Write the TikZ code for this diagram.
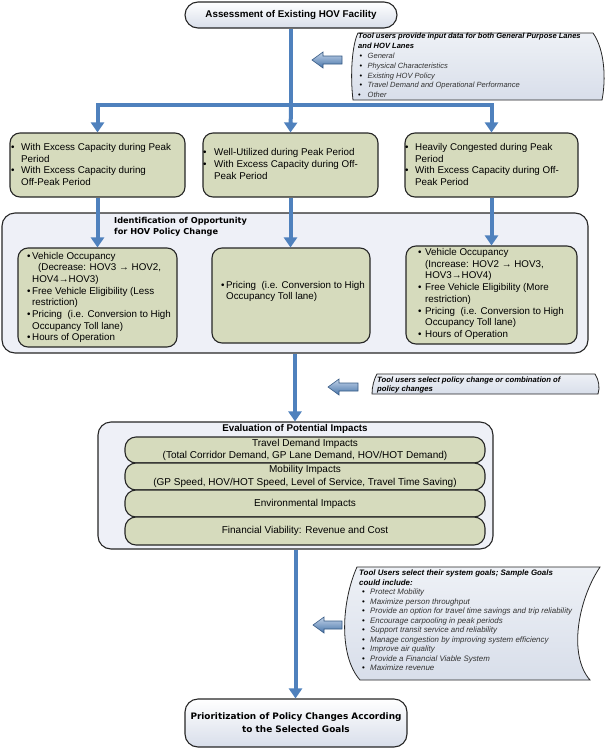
\documentclass[tikz,border=0pt]{standalone}
\usepackage{fontspec}
\setmainfont{Liberation Sans}
\newfontfamily\verd{DejaVu Sans}
\usetikzlibrary{arrows.meta}
\definecolor{gfill}{HTML}{D6DBBD}
\definecolor{bfill}{HTML}{EEF0F7}
\definecolor{cblue}{HTML}{4F81BD}
\definecolor{edgec}{HTML}{262626}
\definecolor{itemc}{HTML}{333333}
\definecolor{notetop}{HTML}{EEF1F6}
\definecolor{notebot}{HTML}{D8DEEA}
\newcommand{\bul}[1]{\makebox[#1][l]{\textbullet}}
\newcommand{\nbul}[1]{\makebox[#1][l]{\upshape\color{black}\textbullet}}
\newcommand{\ind}[1]{\hspace*{#1}}
\newcommand{\leftarr}[3]{%
  \path[barrow] (#1,#3) -- (#1+11,#3-8) -- (#1+11,#3-4) -- (#2,#3-4) -- (#2,#3+4) -- (#1+11,#3+4) -- (#1+11,#3+8) -- cycle;}
\begin{document}
\begin{tikzpicture}[x=1pt,y=-1pt,
  gbox/.style={draw=edgec, line width=1.1pt, fill=gfill, rounded corners=10pt, inner sep=0pt},
  gtext/.style={inner sep=0pt, align=left, anchor=west, font=\fontsize{9.8}{11.7}\selectfont},
  outerbox/.style={draw=edgec, line width=1.1pt, fill=bfill, rounded corners=13pt, inner sep=0pt},
  termbox/.style={draw=edgec, line width=1.1pt, rounded corners=13pt, inner sep=0pt, top color=white, bottom color=notebot},
  bar/.style={draw=edgec, line width=1.1pt, fill=gfill, rounded corners=11pt, inner sep=0pt, minimum width=360, align=center, font=\fontsize{10}{12.5}\selectfont},
  conn/.style={draw=cblue, line width=4pt},
  tipc/.style={-{Triangle[width=13pt,length=10pt]}},
  notestyle/.style={draw=edgec, line width=0.8pt, top color=notetop, bottom color=notebot},
  notetext/.style={inner sep=0pt, align=left, anchor=west},
  barrow/.style={draw=cblue!70!black, line width=0.6pt, top color=cblue!35, bottom color=cblue!90!black}
]
\useasboundingbox (0,0) rectangle (605,750);

% top box
\node[termbox, minimum width=212, minimum height=26, font=\fontsize{9.8}{11}\selectfont\bfseries] (top) at (291,15) {Assessment of Existing HOV Facility};

% note 1
\path[notestyle] (358,33) -- (593,33) .. controls (605,50) and (606,80) .. (602,100) -- (353,100) .. controls (350,75) and (352,45) .. (358,33) -- cycle;
\node[notetext, font=\fontsize{7.55}{9.8}\selectfont] (n1) at (358,65.5) {\textbf{\textit{Tool users provide input data for both General Purpose Lanes}}\\
\textbf{\textit{and HOV Lanes}}\\
{\color{itemc}\itshape\ind{1.5pt}\nbul{8pt}General}\\
{\color{itemc}\itshape\ind{1.5pt}\nbul{8pt}Physical Characteristics}\\
{\color{itemc}\itshape\ind{1.5pt}\nbul{8pt}Existing HOV Policy}\\
{\color{itemc}\itshape\ind{1.5pt}\nbul{8pt}Travel Demand and Operational Performance}\\
{\color{itemc}\itshape\ind{0pt}\nbul{9.5pt}Other}};
\leftarr{312}{342}{60}

% green boxes row 1
\node[gbox, minimum width=175, minimum height=64] (g1) at (97.5,165) {};
\node[gtext] (g1t) at (11,164.5) {\bul{10pt}With Excess Capacity during Peak\\\ind{10pt}Period\\\bul{10pt}With Excess Capacity during\\\ind{10pt}Off-Peak Period};
\node[gbox, minimum width=175, minimum height=64] (g2) at (290.5,165) {};
\node[gtext] (g2t) at (203,164) {\bul{11pt}Well-Utilized during Peak Period\\\bul{11pt}With Excess Capacity during Off-\\\ind{11pt}Peak Period};
\node[gbox, minimum width=173, minimum height=64] (g3) at (491.5,165) {};
\node[gtext] (g3t) at (405,164.5) {\bul{10pt}Heavily Congested during Peak\\\ind{10pt}Period\\\bul{10pt}With Excess Capacity during Off-\\\ind{10pt}Peak Period};

\coordinate (jn) at (291,105);
\draw[conn] (top.south) -- (jn);
\draw[conn, tipc, line join=miter] (jn) -| (g1.north);
\draw[conn, tipc] (jn) -- (g2.north);
\draw[conn, tipc, line join=miter] (jn) -| (g3.north);

% identification box
\node[outerbox, minimum width=586, minimum height=140] (ident) at (295,283) {};
\node[inner sep=0pt, align=left, anchor=west, font=\verd\fontsize{8.2}{11}\selectfont\bfseries] (identt) at (114,226.5) {Identification of Opportunity\\for HOV Policy Change};

\node[gbox, minimum width=159, minimum height=99] (i1) at (97.5,297.5) {};
\node[gtext] (i1t) at (27,297.5) {\bul{5pt}Vehicle Occupancy\\
\ind{11pt}(Decrease: HOV3 \textrightarrow{} HOV2,\\
\ind{5pt}HOV4\textrightarrow{}HOV3)\\
\bul{5pt}Free Vehicle Eligibility (Less\\
\ind{5pt}restriction)\\
\bul{5pt}Pricing\ \ (i.e. Conversion to High\\
\ind{5pt}Occupancy Toll lane)\\
\bul{5pt}Hours of Operation};
\node[gbox, minimum width=158, minimum height=95] (i2) at (291,295.5) {};
\node[gtext] (i2t) at (221,291.5) {\bul{5pt}Pricing\ \ (i.e. Conversion to High\\\ind{5pt}Occupancy Toll lane)};
\node[gbox, minimum width=171, minimum height=98] (i3) at (491.5,295) {};
\node[gtext] (i3t) at (418,294) {\bul{7pt}Vehicle Occupancy\\
\ind{7pt}(Increase: HOV2 \textrightarrow{} HOV3,\\
\ind{7pt}HOV3\textrightarrow{}HOV4)\\
\bul{7pt}Free Vehicle Eligibility (More\\
\ind{7pt}restriction)\\
\bul{7pt}Pricing\ \ (i.e. Conversion to High\\
\ind{7pt}Occupancy Toll lane)\\
\bul{7pt}Hours of Operation};

\draw[conn, tipc] (g1.south) -- (g1.south |- i1.north);
\draw[conn, tipc] (g2.south) -- (g2.south |- i2.north);
\draw[conn, tipc] (g3.south) -- (g3.south |- i3.north);

% note 2
\path[notestyle] (377,374) -- (595,374) .. controls (599,380) and (600,388) .. (598,394) -- (372,394) .. controls (372,387) and (374,379) .. (377,374) -- cycle;
\node[notetext, font=\fontsize{7.7}{9}\selectfont\bfseries\itshape] (n2) at (377,385) {Tool users select policy change or combination of\\policy changes};
\leftarr{328}{358}{387}

% evaluation box
\node[outerbox, minimum width=395, minimum height=127] (eval) at (295.5,485.5) {};
\node[inner sep=0pt, font=\fontsize{9.8}{10}\selectfont\bfseries] (evalt) at (295,429) {Evaluation of Potential Impacts};
\node[bar, minimum height=26] (b1) at (305,450) {Travel Demand Impacts\\(Total Corridor Demand, GP Lane Demand, HOV/HOT Demand)};
\node[bar, minimum height=27] (b2) at (305,476.5) {Mobility Impacts\\(GP Speed, HOV/HOT Speed, Level of Service, Travel Time Saving)};
\node[bar, minimum height=27] (b3) at (305,503.5) {Environmental Impacts};
\node[bar, minimum height=28] (b4) at (305,531) {Financial Viability: Revenue and Cost};

\draw[conn, tipc] (ident.south) -- (ident.south |- eval.north);

% note 3
\path[notestyle] (357,567) -- (600,567) .. controls (578,600) and (568,655) .. (590,680) -- (360,680) .. controls (338,655) and (342,600) .. (357,567) -- cycle;
\node[notetext, font=\fontsize{7.9}{9.5}\selectfont] (n3) at (359,620.5) {\textbf{\textit{Tool Users select their system goals; Sample Goals}}\\
\textbf{\textit{could include:}}\\
{\color{itemc}\itshape\ind{3pt}\nbul{8pt}Protect Mobility}\\
{\color{itemc}\itshape\ind{3pt}\nbul{8pt}Maximize person throughput}\\
{\color{itemc}\itshape\ind{3pt}\nbul{8pt}Provide an option for travel time savings and trip reliability}\\
{\color{itemc}\itshape\ind{3pt}\nbul{8pt}Encourage carpooling in peak periods}\\
{\color{itemc}\itshape\ind{3pt}\nbul{8pt}Support transit service and reliability}\\
{\color{itemc}\itshape\ind{3pt}\nbul{8pt}Manage congestion by improving system efficiency}\\
{\color{itemc}\itshape\ind{3pt}\nbul{8pt}Improve air quality}\\
{\color{itemc}\itshape\ind{3pt}\nbul{8pt}Provide a Financial Viable System}\\
{\color{itemc}\itshape\ind{3pt}\nbul{8pt}Maximize revenue}};
\leftarr{313}{342}{625}

% final box
\node[termbox, minimum width=222, minimum height=48, align=center, font=\verd\fontsize{8.9}{13}\selectfont\bfseries] (final) at (296,723) {Prioritization of Policy Changes According\\to the Selected Goals};
\draw[conn, tipc] (eval.south) -- (eval.south |- final.north);
\end{tikzpicture}
\end{document}
